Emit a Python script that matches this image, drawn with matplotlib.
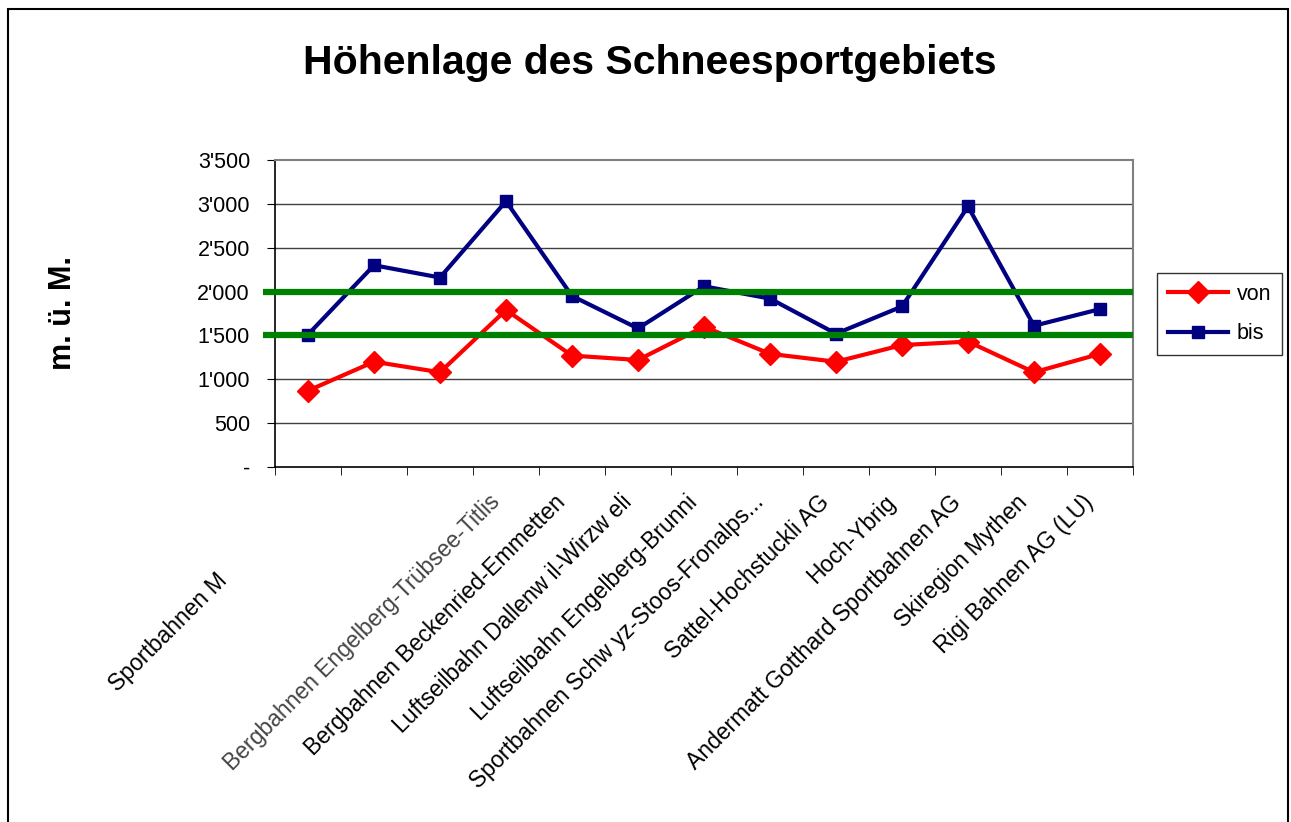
import matplotlib
matplotlib.use('Agg')
import matplotlib.pyplot as plt
import matplotlib.transforms as mtransforms
from matplotlib.patches import Rectangle
from matplotlib.ticker import FuncFormatter

plt.rcParams['font.family'] = ['Liberation Sans', 'DejaVu Sans']

# Daten
gebiete = ['Sportbahnen M', '', '', 'Bergbahnen Engelberg-Trübsee-Titlis',
           'Bergbahnen Beckenried-Emmetten', 'Luftseilbahn Dallenw il-Wirzw eli',
           'Luftseilbahn Engelberg-Brunni', 'Sportbahnen Schw yz-Stoos-Fronalps...',
           'Sattel-Hochstuckli AG', 'Hoch-Ybrig', 'Andermatt Gotthard Sportbahnen AG',
           'Skiregion Mythen', 'Rigi Bahnen AG (LU)']
von = [870, 1200, 1080, 1790, 1270, 1220, 1600, 1290, 1200, 1390, 1430, 1080, 1290]
bis = [1510, 2300, 2160, 3030, 1950, 1580, 2060, 1920, 1520, 1830, 2970, 1610, 1800]
schwellen = [1500, 2000]

fig = plt.figure(figsize=(12.91, 8.22), dpi=100)
ax = fig.add_axes([275/1291, 1-467/822, (1133-275)/1291, (467-160)/822])

x = list(range(len(gebiete)))
ax.plot(x, von, color='#FF0000', lw=3, marker='D', markersize=11, label='von', zorder=4)
ax.plot(x, bis, color='#000080', lw=3, marker='s', markersize=9, label='bis', zorder=4)

for s in schwellen:
    ax.plot([-0.68, len(gebiete)-0.5], [s, s], color='#008000', lw=4.5,
            clip_on=False, zorder=5, solid_capstyle='butt')

ax.set_xlim(-0.5, len(gebiete)-0.5)
ax.set_ylim(0, 3500)
ax.set_yticks(range(0, 3501, 500))
ax.yaxis.set_major_formatter(FuncFormatter(
    lambda v, p: '-' if v == 0 else '{:,}'.format(int(v)).replace(',', "'")))
for yv in range(500, 3500, 500):
    ax.axhline(yv, color='#404040', lw=1, zorder=1)

ax.set_xticks([i - 0.5 for i in range(len(gebiete)+1)], minor=True)
ax.set_xticks(x)
ax.set_xticklabels(gebiete, rotation=45, ha='right', va='center', rotation_mode='anchor')
ax.tick_params(axis='x', which='major', length=0, pad=25, labelsize=16.5)
ax.tick_params(axis='x', which='minor', length=6, direction='out')
ax.tick_params(axis='y', length=6, direction='out', pad=12, labelsize=15.5)

for sp in ['top', 'right']:
    ax.spines[sp].set_color('#808080')
    ax.spines[sp].set_linewidth(1.5)
for sp in ['left', 'bottom']:
    ax.spines[sp].set_color('black')
    ax.spines[sp].set_linewidth(1.2)

# Etiketten wie im Original verschoben
labels = ax.get_xticklabels()
shift = mtransforms.ScaledTranslation(-0.10, 0.03, fig.dpi_scale_trans)
for lb in labels:
    lb.set_transform(lb.get_transform() + shift)
off = mtransforms.ScaledTranslation(-0.74, -0.78, fig.dpi_scale_trans)
labels[0].set_transform(labels[0].get_transform() + off)
labels[3].set_color('#444444')

fig.text(0.503, 1-63/822, 'Höhenlage des Schneesportgebiets', ha='center', va='center',
         fontsize=29.5, fontweight='bold')
fig.text(63/1291, 1-313/822, 'm. ü. M.', rotation=90, ha='center', va='center',
         fontsize=22, fontweight='bold')

fig.legend(loc='upper left', bbox_to_anchor=(1157/1291, 1-273/822), borderaxespad=0,
           fontsize=15.5, frameon=True, fancybox=False, edgecolor='black',
           handlelength=2.8, handletextpad=0.4, labelspacing=0.85, borderpad=0.5)

fig.add_artist(Rectangle((8/1291, -0.05), (1288-8)/1291, 1-9/822+0.05,
                         transform=fig.transFigure, fill=False, ec='black', lw=1.5))

fig.savefig('out.png', dpi=100)
